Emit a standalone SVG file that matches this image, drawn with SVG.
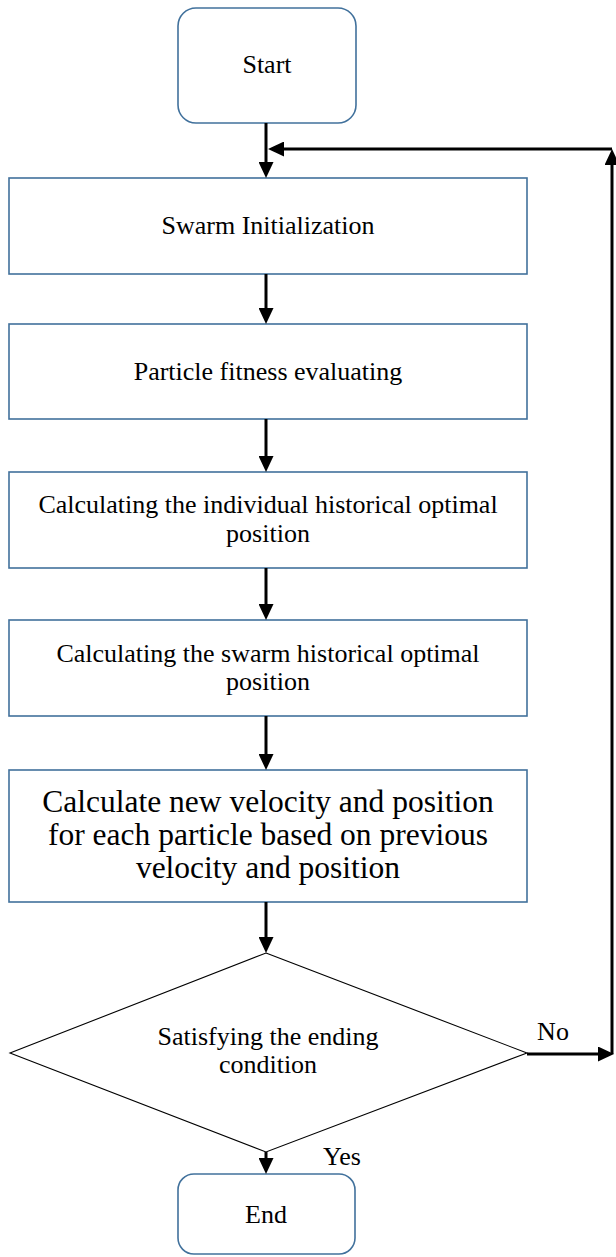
<svg xmlns="http://www.w3.org/2000/svg" width="616" height="1257" viewBox="0 0 616 1257">
<style>
.box{fill:#fff;stroke:#41719c;stroke-width:1.6}
.dec{fill:#fff;stroke:#000;stroke-width:1.1}
.t{font-family:"Liberation Serif","Times New Roman",serif;font-size:26px;fill:#000;text-anchor:middle}
.tb{font-family:"Liberation Serif","Times New Roman",serif;font-size:31.5px;fill:#000;text-anchor:middle}
.c{fill:none;stroke:#000;stroke-width:3;marker-end:url(#ah)}
</style>
<defs>
<marker id="ah" markerUnits="userSpaceOnUse" markerWidth="16" markerHeight="15" refX="10" refY="7.5" orient="auto">
<path d="M0,0 L16,7.5 L0,15 z" fill="#000"/>
</marker>
</defs>
<g id="start">
<rect class="box" x="178" y="8" width="178" height="115" rx="18"/>
<text class="t" x="267" y="73">Start</text>
</g>
<g id="init">
<rect class="box" x="9" y="178" width="518" height="96"/>
<text class="t" x="268" y="234">Swarm Initialization</text>
</g>
<g id="fitness">
<rect class="box" x="9" y="324" width="518" height="95"/>
<text class="t" x="268" y="380">Particle fitness evaluating</text>
</g>
<g id="pbest">
<rect class="box" x="9" y="472" width="518" height="96"/>
<text class="t" x="268" y="513">Calculating the individual historical optimal</text>
<text class="t" x="268" y="542">position</text>
</g>
<g id="gbest">
<rect class="box" x="9" y="620" width="518" height="96"/>
<text class="t" x="268" y="662">Calculating the swarm historical optimal</text>
<text class="t" x="268" y="690">position</text>
</g>
<g id="update">
<rect class="box" x="9" y="770" width="518" height="132"/>
<text class="tb" x="268" y="812">Calculate new velocity and position</text>
<text class="tb" x="268" y="845">for each particle based on previous</text>
<text class="tb" x="268" y="878">velocity and position</text>
</g>
<g id="decision">
<polygon class="dec" points="266,953 527,1053 266,1152 10,1053"/>
<text class="t" x="268" y="1045">Satisfying the ending</text>
<text class="t" x="268" y="1073">condition</text>
</g>
<g id="end">
<rect class="box" x="178" y="1174" width="177" height="80" rx="16"/>
<text class="t" x="266" y="1223">End</text>
</g>
<g id="connectors">
<path class="c" d="M266,123 V172"/>
<path class="c" d="M266,274 V318"/>
<path class="c" d="M266,419 V466"/>
<path class="c" d="M266,568 V614"/>
<path class="c" d="M266,716 V764"/>
<path class="c" d="M266,902 V947"/>
<path class="c" d="M266,1152 V1168"/>
<path class="c" d="M527,1054 H608"/>
<path class="c" d="M612,1054 V155"/>
<path class="c" d="M612,149 H274"/>
<text class="t" x="553" y="1040">No</text>
<text class="t" x="342" y="1165">Yes</text>
</g>
</svg>
